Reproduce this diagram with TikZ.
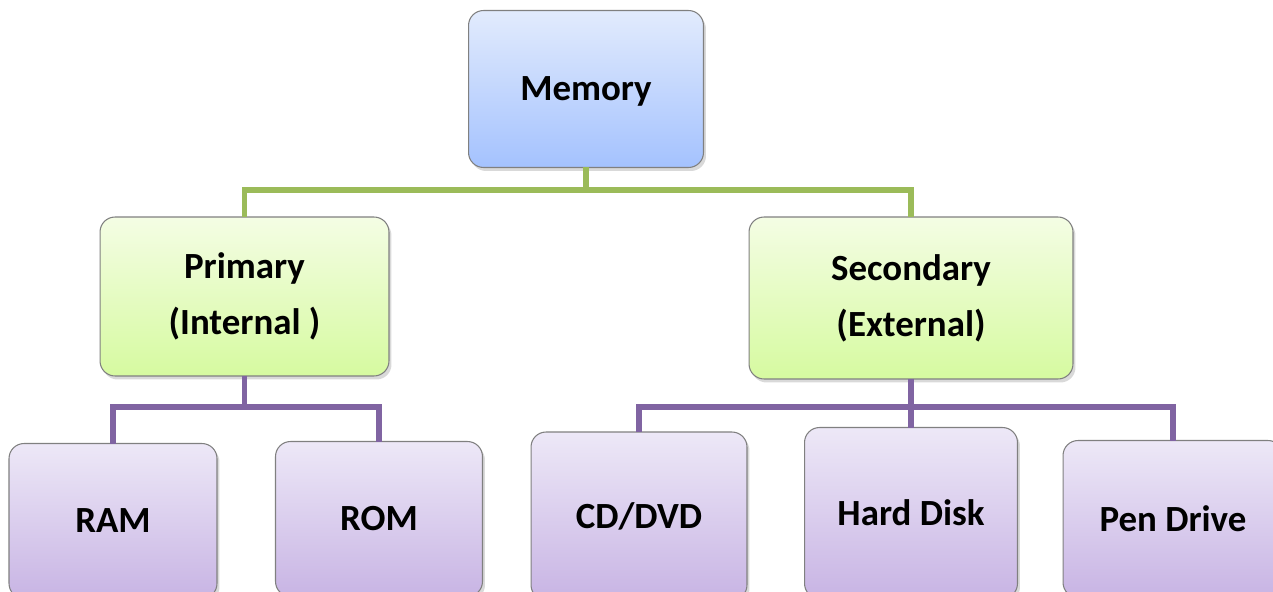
\documentclass[tikz,border=0pt]{standalone}
\usepackage{fontspec}
\setmainfont{Carlito}
\usetikzlibrary{shadows,calc}

\definecolor{memtop}{RGB}{226,235,253}
\definecolor{membot}{RGB}{164,194,254}
\definecolor{midtop}{RGB}{244,253,228}
\definecolor{midbot}{RGB}{214,250,160}
\definecolor{leaftop}{RGB}{237,232,247}
\definecolor{leafbot}{RGB}{200,180,228}
\definecolor{linegreen}{RGB}{155,187,89}
\definecolor{linepurple}{RGB}{128,100,162}

\begin{document}
\begin{tikzpicture}[x=0.02cm,y=-0.02cm,
  box/.style={draw=black!50,line width=0.6pt,rounded corners=0.3cm,inner sep=0pt,outer sep=0pt,
    font=\fontsize{21}{32}\selectfont\bfseries,align=center,
    drop shadow={shadow xshift=0.05cm,shadow yshift=-0.07cm,opacity=0.3}},
  topbox/.style={box,top color=memtop,bottom color=membot},
  midbox/.style={box,top color=midtop,bottom color=midbot},
  leafbox/.style={box,top color=leaftop,bottom color=leafbot},
  greenline/.style={draw=linegreen,line width=3.1pt},
  purpleline/.style={draw=linepurple,line width=2.9pt}]

        \useasboundingbox (0,0) rectangle (1273,591);
        \clip (0,0) rectangle (1273,591);

        \node[topbox,minimum width=4.7cm,minimum height=3.14cm,text depth=0pt] (Mem) at (586,89) {Memory};

        \node[midbox,minimum width=5.78cm,minimum height=3.18cm] (Prim) at (244.5,296.5) {Primary\\(Internal )};
        \node[midbox,minimum width=6.48cm,minimum height=3.24cm] (Sec) at (911,298) {Secondary\\(External)};

        \node[leafbox,minimum width=4.16cm,minimum height=3.1cm] (RAM) at (113,521) {RAM};
        \node[leafbox,minimum width=4.14cm,minimum height=3.1cm] (ROM) at (379,519) {ROM};
        \node[leafbox,minimum width=4.32cm,minimum height=3.36cm] (CD) at (639,516) {CD/DVD};
        \node[leafbox,minimum width=4.26cm,minimum height=3.42cm] (HD) at (911,513) {Hard Disk};
        \node[leafbox,minimum width=4.4cm,minimum height=3.14cm] (Pen) at (1173,519) {Pen Drive};

        % top level
        \coordinate (g) at (586,190);
        \draw[greenline] (Mem.south) -- (g);
        \draw[greenline] (Prim.north) |- (g) -| (Sec.north);

        % primary and secondary
        \coordinate (p1) at (244.5,407);
        \coordinate (p2) at (911,407);
        \draw[purpleline] (Prim.south) -- (p1);
        \draw[purpleline] (RAM.north) |- (p1) -| (ROM.north);
        \draw[purpleline] (Sec.south) -- (HD.north);
        \draw[purpleline] (CD.north) |- (p2) -| (Pen.north);
      \end{tikzpicture}
\end{document}
